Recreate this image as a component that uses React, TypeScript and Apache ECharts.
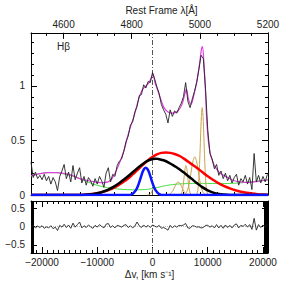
import React, { useEffect, useRef } from "react";
import * as echarts from "echarts";

// ---- data ----
const V0 = -22000; // km/s, first sample of the observed spectrum
const DV = 400; // km/s sampling step
const FLUX = [
  0.30, 0.16, 0.21, 0.15, 0.18, 0.14, 0.19, 0.13, 0.17, 0.10,
  0.16, 0.12, 0.04, 0.17, 0.22, 0.28, 0.15, 0.21, 0.12, 0.27,
  0.14, 0.20, 0.25, 0.11, 0.17, 0.09, 0.16, 0.13, 0.08, 0.15,
  0.10, 0.17, 0.13, 0.07, 0.20, 0.25, 0.12, 0.19, 0.17, 0.27,
  0.31, 0.33, 0.40, 0.49, 0.54, 0.64, 0.67, 0.76, 0.81, 0.91,
  0.92, 1.01, 0.98, 1.04, 1.03, 1.12, 1.06, 0.99, 0.93, 0.83,
  0.78, 0.74, 0.66, 0.78, 0.72, 0.77, 0.75, 0.80, 0.84, 0.90,
  1.03, 0.86, 0.80, 0.88, 0.95, 1.03, 1.15, 1.28, 1.25, 0.97,
  0.60, 0.38, 0.33, 0.24, 0.28, 0.18, 0.22, 0.15, 0.20, 0.13,
  0.18, 0.11, 0.16, 0.19, 0.09, 0.15, 0.12, 0.18, 0.10, 0.16,
  0.05, 0.38, 0.12, 0.18, 0.11, 0.17, 0.12, 0.19,
];
const RESID = [
  -0.02, 0.03, -0.04, 0.01, -0.03, 0.02, -0.05, -0.01, -0.04, 0.02,
  -0.06, -0.02, -0.11, 0.03, -0.02, 0.06, -0.03, 0.04, -0.05, 0.09,
  -0.02, 0.05, 0.12, -0.04, 0.02, -0.03, 0.04, -0.01, -0.05, 0.03,
  -0.02, 0.05, 0.0, -0.04, 0.06, 0.08, -0.03, 0.02, -0.04, 0.03,
  0.01, -0.02, 0.03, 0.05, -0.03, 0.02, -0.04, 0.01, 0.12, 0.02,
  -0.03, 0.04, -0.02, 0.03, -0.03, 0.04, 0.01, -0.02, 0.03, -0.05,
  -0.03, -0.06, -0.1, 0.03, -0.04, 0.02, -0.02, 0.03, 0.02, 0.04,
  0.08, -0.04, -0.05, 0.02, 0.01, -0.02, -0.01, -0.04, -0.03, 0.03,
  0.03, -0.02, 0.02, -0.04, 0.05, -0.04, 0.03, -0.05, 0.04, -0.03,
  0.03, -0.04, 0.04, 0.07, -0.04, 0.03, 0.0, 0.06, -0.02, 0.05,
  -0.08, 0.22, -0.1, 0.05, -0.03, 0.04, -0.02, 0.05,
];
const TOTAL_FIT = [
  [-22000, 0.175], [-20360, 0.195], [-18910, 0.205], [-17470, 0.205], [-15840, 0.195],
  [-14570, 0.18], [-13480, 0.155], [-12040, 0.135], [-10410, 0.12], [-9140, 0.112],
  [-8050, 0.12], [-7330, 0.15], [-6790, 0.2], [-6240, 0.26], [-5700, 0.33],
  [-5030, 0.43], [-4430, 0.55], [-3890, 0.64], [-3350, 0.72], [-2620, 0.86],
  [-1900, 0.96], [-1180, 1.0], [-630, 1.03], [-180, 1.08], [90, 1.11],
  [450, 1.03], [1000, 0.95], [1540, 0.87], [2080, 0.8], [2810, 0.76],
  [3710, 0.75], [4620, 0.77], [5340, 0.83], [5880, 0.93], [6150, 0.97],
  [6500, 0.88], [6970, 0.83], [7510, 0.92], [8050, 1.05], [8510, 1.2],
  [8870, 1.34], [9050, 1.36], [9320, 1.2], [9590, 0.95], [9800, 0.7],
  [10100, 0.5], [10500, 0.37], [10950, 0.3], [11310, 0.26], [12220, 0.2],
  [13480, 0.165], [14570, 0.135], [15840, 0.12], [17650, 0.115], [19100, 0.125],
  [20910, 0.14],
];
const FE_GREEN = [
  [-22000, 0.175], [-20400, 0.195], [-18900, 0.205], [-17500, 0.205], [-15800, 0.19],
  [-14000, 0.165], [-12200, 0.13], [-10400, 0.095], [-8600, 0.072], [-6800, 0.058],
  [-5000, 0.05], [-3200, 0.048], [-1400, 0.05], [500, 0.065], [2300, 0.085],
  [4100, 0.098], [5900, 0.104], [7700, 0.106], [9500, 0.106], [11300, 0.105],
  [13100, 0.105], [14900, 0.108], [16700, 0.115], [18600, 0.125], [20910, 0.138],
];
const BROAD_RED = [
  [-22000, 0], [-13000, 0], [-11800, 0.005], [-10500, 0.012], [-9500, 0.022],
  [-8500, 0.035], [-7500, 0.055], [-6700, 0.075], [-5900, 0.099], [-5000, 0.13],
  [-4200, 0.16], [-3500, 0.193], [-2700, 0.23], [-1900, 0.27], [-1000, 0.31],
  [-100, 0.345], [800, 0.372], [1600, 0.386], [2400, 0.39], [3200, 0.386],
  [4000, 0.376], [5000, 0.355], [6000, 0.322], [7000, 0.285], [8000, 0.25],
  [9000, 0.21], [10000, 0.172], [11000, 0.138], [12000, 0.107], [13000, 0.081],
  [14000, 0.06], [15000, 0.043], [16000, 0.03], [17000, 0.02], [18000, 0.013],
  [19000, 0.008], [20000, 0.005], [20910, 0.003],
];
const BROAD_BLACK = [
  [-22000, 0], [-13000, 0], [-11500, 0.005], [-10000, 0.016], [-9000, 0.03],
  [-8000, 0.05], [-7000, 0.077], [-6000, 0.11], [-5000, 0.148], [-4000, 0.19],
  [-3000, 0.235], [-2000, 0.275], [-1000, 0.31], [0, 0.33], [500, 0.333],
  [1000, 0.331], [2000, 0.318], [3000, 0.295], [4000, 0.265], [5000, 0.232],
  [6000, 0.193], [7000, 0.152], [8000, 0.11], [9000, 0.072], [10000, 0.043],
  [11000, 0.022], [12000, 0.01], [13000, 0.004], [14000, 0.001], [15000, 0],
  [20910, 0],
];
const BLUE_COMP = [
  [-22000, 0], [-4200, 0], [-3800, 0.006], [-3400, 0.02], [-3000, 0.045],
  [-2700, 0.075], [-2400, 0.117], [-2100, 0.165], [-1800, 0.21], [-1500, 0.24],
  [-1230, 0.25], [-950, 0.24], [-650, 0.21], [-350, 0.165], [-60, 0.117],
  [240, 0.075], [540, 0.045], [940, 0.02], [1340, 0.006], [1740, 0], [20910, 0],
];
const HB_NARROW = [
  [-1000, 0], [-600, 0.002], [-450, 0.005], [-300, 0.013], [-150, 0.027], [0, 0.046],
  [150, 0.063], [300, 0.07], [450, 0.063], [600, 0.046], [750, 0.027], [900, 0.013],
  [1050, 0.005], [1200, 0.002], [1400, 0],
];
const OIII4959_WING = [
  [2300, 0], [2850, 0.003], [3150, 0.008], [3450, 0.022], [3750, 0.046], [4050, 0.078],
  [4350, 0.108], [4650, 0.12], [4950, 0.108], [5250, 0.078], [5550, 0.046], [5850, 0.022],
  [6150, 0.008], [6450, 0.003], [7000, 0],
];
const OIII4959_CORE = [
  [4750, 0], [4950, 0.001], [5150, 0.007], [5300, 0.02], [5450, 0.051], [5600, 0.108],
  [5750, 0.179], [5900, 0.243], [6050, 0.27], [6200, 0.243], [6350, 0.179], [6500, 0.108],
  [6650, 0.051], [6800, 0.02], [6950, 0.007], [7150, 0.001], [7350, 0],
];
const OIII5007_WING = [
  [5200, 0], [5450, 0.001], [5850, 0.008], [6150, 0.025], [6450, 0.064], [6750, 0.135],
  [7050, 0.23], [7350, 0.315], [7650, 0.35], [7950, 0.315], [8250, 0.23], [8550, 0.135],
  [8850, 0.064], [9150, 0.025], [9450, 0.008], [9850, 0.001], [10100, 0],
];
const OIII5007_CORE = [
  [7700, 0], [7900, 0.003], [8100, 0.02], [8250, 0.06], [8400, 0.15], [8550, 0.32],
  [8700, 0.53], [8850, 0.72], [9000, 0.8], [9150, 0.72], [9300, 0.53], [9450, 0.32],
  [9600, 0.15], [9750, 0.06], [9900, 0.02], [10100, 0.003], [10300, 0],
];

// axes
const V_MIN = -22000;
const V_MAX = 20910;
const LAMBDA_0 = 4861;
const C_KMS = 299792.458;
const LAMBDA_LABELS = [4600, 4800, 5000, 5200];
const LAMBDA_TICKS = [4550, 4600, 4650, 4700, 4750, 4800, 4850, 4900, 4950, 5000, 5050, 5100, 5150, 5200];
const V_LABELS = [-20000, -10000, 0, 10000, 20000];
const FLUX_LABELS = [0, 0.5, 1];
const FLUX_MINOR = [0.1, 0.2, 0.3, 0.4, 0.6, 0.7, 0.8, 0.9, 1.1, 1.2, 1.3, 1.4];
const RES_LABELS = [-0.5, 0, 0.5];
const RES_MINOR = [-0.7, -0.6, -0.4, -0.3, -0.2, -0.1, 0.1, 0.2, 0.3, 0.4, 0.6];

const FONT = "Liberation Sans";
const plain = (v: number) => String(Math.round(v * 1000) / 1000).replace("-", "\u2212");

export default function App() {
  const ref = useRef<HTMLDivElement>(null);
  useEffect(() => {
    if (!ref.current) return;
    const chart = echarts.init(ref.current, undefined, { renderer: "svg" });
    const lmin = LAMBDA_0 * (1 + V_MIN / C_KMS);
    const lmax = LAMBDA_0 * (1 + V_MAX / C_KMS);
    const vMinor: number[] = [];
    for (let v = -22000; v <= 20000; v += 1000) if (v % 10000 !== 0) vMinor.push(v);

    const axLine = { show: true, onZero: false, lineStyle: { color: "#000", width: 1 } };
    const noLine = { show: false, onZero: false };
    const lab = { color: "#222", fontSize: 10, fontFamily: FONT };
    const base = { splitLine: { show: false } };
    const tk = (len: number, vals: number[]) => ({
      show: true, inside: true, length: len, customValues: vals, lineStyle: { color: "#000" },
    });

    const xAxis: any[] = [
      { ...base, type: "value", gridIndex: 0, position: "bottom", min: V_MIN, max: V_MAX,
        axisLine: axLine, axisTick: { show: false }, axisLabel: { show: false } },
      { ...base, type: "value", gridIndex: 0, position: "top", min: lmin, max: lmax,
        axisLine: axLine, axisTick: tk(3, LAMBDA_TICKS),
        axisLabel: { show: true, customValues: LAMBDA_LABELS, margin: 3, formatter: plain, ...lab },
        name: "Rest Frame \u03bb[\u00c5]", nameLocation: "middle", nameGap: 15,
        nameTextStyle: { ...lab, padding: [0, 0, 0, 24] } },
      { ...base, type: "value", gridIndex: 0, position: "top", min: lmin, max: lmax,
        axisLine: noLine, axisLabel: { show: false }, axisTick: tk(6, LAMBDA_LABELS) },
      { ...base, type: "value", gridIndex: 0, position: "bottom", min: lmin, max: lmax,
        axisLine: noLine, axisLabel: { show: false }, axisTick: tk(3, LAMBDA_TICKS) },
      { ...base, type: "value", gridIndex: 1, position: "bottom", min: V_MIN, max: V_MAX,
        axisLine: axLine, axisTick: tk(3, vMinor),
        axisLabel: { show: true, customValues: V_LABELS, margin: 4, formatter: plain, ...lab },
        name: "\u0394v, [km s\u207b\u00b9]", nameLocation: "middle", nameGap: 16, nameTextStyle: lab },
      { ...base, type: "value", gridIndex: 1, position: "bottom", min: V_MIN, max: V_MAX,
        axisLine: noLine, axisLabel: { show: false }, axisTick: tk(6, V_LABELS) },
      { ...base, type: "value", gridIndex: 1, position: "top", min: V_MIN, max: V_MAX,
        axisLine: axLine, axisLabel: { show: false }, axisTick: tk(3, vMinor) },
      { ...base, type: "value", gridIndex: 1, position: "top", min: V_MIN, max: V_MAX,
        axisLine: noLine, axisLabel: { show: false }, axisTick: tk(6, V_LABELS) },
    ];

    const yAxis: any[] = [
      { ...base, type: "value", gridIndex: 0, position: "left", min: 0, max: 1.485,
        axisLine: axLine, axisTick: tk(6, FLUX_LABELS),
        axisLabel: { show: true, customValues: FLUX_LABELS, margin: 6, formatter: plain, ...lab } },
      { ...base, type: "value", gridIndex: 0, position: "left", min: 0, max: 1.485,
        axisLine: noLine, axisLabel: { show: false }, axisTick: tk(3, FLUX_MINOR) },
      { ...base, type: "value", gridIndex: 0, position: "right", min: 0, max: 1.485,
        axisLine: axLine, axisLabel: { show: false }, axisTick: tk(6, FLUX_LABELS) },
      { ...base, type: "value", gridIndex: 0, position: "right", min: 0, max: 1.485,
        axisLine: noLine, axisLabel: { show: false }, axisTick: tk(3, FLUX_MINOR) },
      { ...base, type: "value", gridIndex: 1, position: "left", min: -0.72, max: 0.69,
        axisLine: axLine, axisTick: tk(6, RES_LABELS),
        axisLabel: { show: true, customValues: RES_LABELS, margin: 6, formatter: plain, ...lab } },
      { ...base, type: "value", gridIndex: 1, position: "left", min: -0.72, max: 0.69,
        axisLine: noLine, axisLabel: { show: false }, axisTick: tk(3, RES_MINOR) },
      { ...base, type: "value", gridIndex: 1, position: "right", min: -0.72, max: 0.69,
        axisLine: axLine, axisLabel: { show: false }, axisTick: tk(6, RES_LABELS) },
      { ...base, type: "value", gridIndex: 1, position: "right", min: -0.72, max: 0.69,
        axisLine: noLine, axisLabel: { show: false }, axisTick: tk(3, RES_MINOR) },
    ];

    const line = (name: string, data: any, color: string, width: number, z: number, smooth: any = 0.3, extra: any = {}) => ({
      name, type: "line", data, xAxisIndex: 0, yAxisIndex: 0, showSymbol: false, symbol: "none",
      smooth, z, lineStyle: { color, width }, ...extra,
    });

    const vline = {
      silent: true, symbol: "none", label: { show: false },
      lineStyle: { color: "#555", width: 1, type: [5, 2, 1, 2] },
      data: [{ xAxis: 0 }],
    };

    const obs = FLUX.map((f, i) => [V0 + i * DV, f]);
    const res = RESID.map((r, i) => [V0 + i * DV, r]);

    chart.setOption({
      animation: false,
      backgroundColor: "#fff",
      grid: [
        { left: 31, top: 24, width: 237, height: 171, containLabel: false },
        { left: 31, top: 201, width: 237, height: 52, containLabel: false },
      ],
      xAxis,
      yAxis,
      graphic: [
        { type: "text", left: 57, top: 41, style: { text: "H\u03b2", fontSize: 10, fontFamily: FONT, fill: "#222" } },
      ],
      series: [
        line("green", FE_GREEN, "#44e044", 1, 2, 0.4),
        line("hb", HB_NARROW, "#c9a24e", 1, 3, 0.3),
        line("w4959", OIII4959_WING, "#c9a24e", 1, 3, 0.3),
        line("c4959", OIII4959_CORE, "#c9a24e", 1, 3, 0.3),
        line("w5007", OIII5007_WING, "#c9a24e", 1, 3, 0.3),
        line("c5007", OIII5007_CORE, "#c9a24e", 1, 3, 0.3),
        line("red", BROAD_RED, "#ff0000", 2.5, 4, 0.4),
        line("blackc", BROAD_BLACK, "#000000", 2.5, 5, 0.4),
        line("blue", BLUE_COMP, "#0a14ff", 2.5, 6, 0.3),
        line("total", TOTAL_FIT, "#e040e0", 1.2, 7, 0.3, { markLine: vline }),
        line("obs", obs, "#222222", 0.9, 8, false),
        {
          name: "resid", type: "line", data: res, xAxisIndex: 4, yAxisIndex: 4,
          showSymbol: false, symbol: "none", z: 5, lineStyle: { color: "#222", width: 0.9 },
          markLine: {
            silent: true, symbol: "none", label: { show: false },
            data: [
              { xAxis: 0, lineStyle: { color: "#555", width: 1, type: [5, 2, 1, 2] } },
              { yAxis: 0, lineStyle: { color: "#bbb", width: 1, type: "dotted" } },
              { xAxis: -21750, lineStyle: { color: "#000", width: 3, type: "solid" } },
              { xAxis: 20450, lineStyle: { color: "#000", width: 4, type: "solid" } },
            ],
          },
        },
      ],
    });
    return () => chart.dispose();
  }, []);
  return (
    <div
      ref={ref}
      style={{ position: "fixed", left: 0, top: 0, width: 283, height: 283, background: "#fff" }}
    />
  );
}
